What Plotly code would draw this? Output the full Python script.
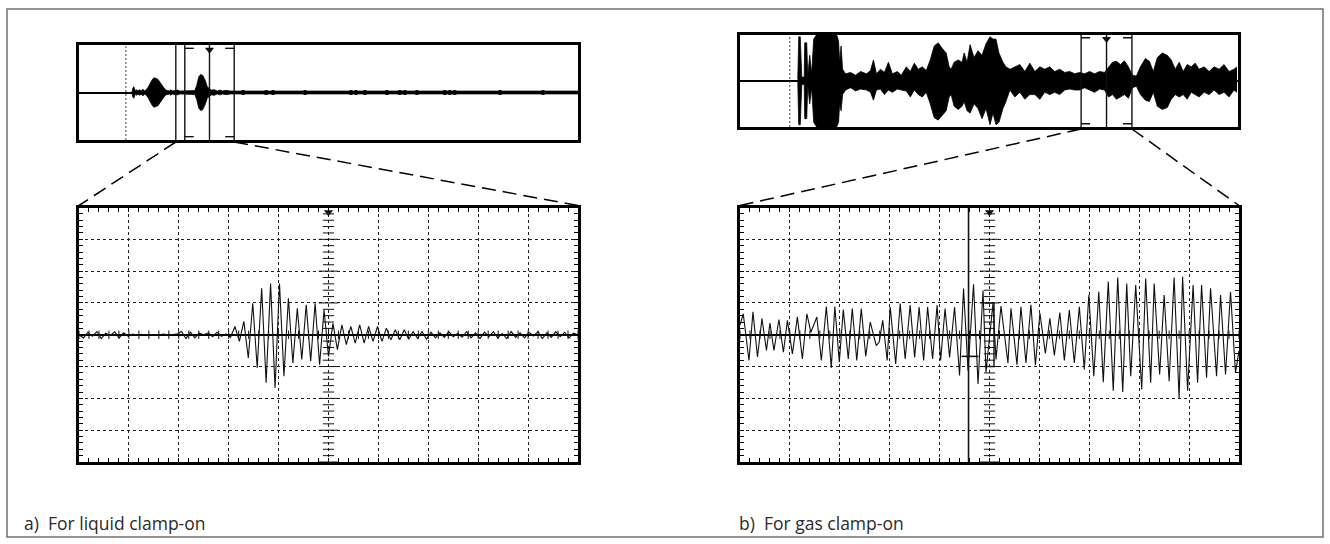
import numpy as np
import plotly.graph_objects as go

W, H = 1330, 544

# ---------------- data ----------------
# (a) liquid clamp-on: overview record, time axis 0-100 % of record,
#     symmetric envelope amplitude (box half height = 1)
LT_T = [10.6, 10.8, 11.0, 11.3, 11.6, 11.8, 12.2, 12.4, 12.8, 13.2, 13.8, 14.2, 14.6, 15.0,
        15.4, 15.8, 16.2, 16.6, 17.0, 17.4, 17.8, 18.2, 18.4, 18.6, 19.8, 20.2, 23.2, 23.6,
        24.0, 24.4, 24.8, 25.3, 25.7, 26.1, 26.5, 27.1, 27.7, 28.3, 28.7, 29.5, 30.3, 100.0]
LT_AMP = [0.0, 0.10, 0.12, 0.03, 0.06, 0.03, 0.06, 0.03, 0.07, 0.03, 0.10, 0.20, 0.26, 0.31,
          0.30, 0.28, 0.22, 0.15, 0.10, 0.05, 0.04, 0.03, 0.06, 0.03, 0.05, 0.03, 0.04, 0.15,
          0.33, 0.38, 0.36, 0.25, 0.12, 0.08, 0.05, 0.06, 0.03, 0.05, 0.03, 0.045, 0.03, 0.03]
LT_DOTS_T = [32.9, 37.5, 38.9, 45.3, 54.5, 55.5, 57.3, 61.7, 64.3, 65.3, 67.7,
             73.3, 74.3, 75.3, 84.4, 93.0]
LT_TRIGGER = 9.4
LT_CURSOR = 19.4
LT_WINDOW = (21.2, 31.1)

# (a) zoomed trace, 10 x 8 divisions
LB_DT = 10 / 112
LB_V = [0.0, -0.1, 0.08, -0.05, 0.1, -0.12, 0.05, -0.03, 0.09, -0.1, 0.06, -0.04,
        0.02, -0.02, 0.01, -0.01, 0.0, 0.01, -0.01, 0.02, -0.01, 0.0, 0.02,
        0.1, -0.12, 0.08, -0.1, 0.05, 0.0,
        0.06, -0.06, 0.08, -0.05, 0.03, -0.08,
        0.26, -0.21, 0.42, -0.73, 0.99, -1.04, 1.46, -1.51, 1.61, -1.67, 1.61, -1.30,
        1.15, -0.89, 0.83, -0.78, 0.94, -0.83, 0.99, -0.94, 0.78, -0.68, 0.36, -0.47,
        0.31, -0.31, 0.26, -0.26, 0.31, -0.26, 0.26, -0.21, 0.26, -0.21, 0.21, -0.16,
        0.16, -0.16, 0.16, -0.14, 0.10,
        -0.12, 0.1, -0.14, 0.08, -0.1, 0.06, -0.08, 0.1, -0.06, 0.04, -0.08, 0.1,
        -0.1, 0.06, -0.12, 0.08, -0.06, 0.1, -0.1, 0.04, -0.12, 0.1, -0.08, 0.06,
        -0.1, 0.08, -0.04, 0.1, -0.12, 0.06, -0.08, 0.1, -0.06, 0.08, -0.1, 0.05, 0.0]

# (b) gas clamp-on: overview record envelope (upper / lower)
RT_T = [11.6, 11.8, 12.1, 12.4, 12.9, 13.0, 13.4, 13.6, 14.0, 14.4, 14.8, 15.4, 19.4, 19.8,
        20.0, 20.3, 20.6, 21.2, 22.2, 23.2, 24.2, 25.4, 26.2, 26.8, 27.4, 28.2, 29.0, 29.8,
        30.6, 31.6, 32.4, 33.4, 34.2, 35.0, 35.8, 36.6, 37.4, 38.2, 39.0, 39.8, 40.6, 41.4,
        42.0, 42.4, 43.0, 43.8, 44.6, 45.0, 45.6, 46.2, 47.0, 47.8, 48.6, 49.4, 50.2, 50.8,
        51.4, 52.0, 52.8, 53.4, 54.2, 55.2, 56.2, 57.2, 58.2, 59.2, 60.2, 61.2, 62.2, 63.2,
        64.2, 65.2, 66.2, 67.2, 68.2, 69.2, 70.2, 71.2, 72.2, 73.2, 74.0, 74.8, 75.6, 76.4,
        77.2, 78.0, 78.8, 79.6, 80.4, 81.4, 82.2, 83.0, 83.8, 84.8, 85.8, 86.6, 87.4, 88.2,
        89.0, 89.8, 90.6, 91.4, 92.2, 93.2, 94.2, 95.2, 96.2, 97.2, 98.2, 99.2, 99.8]
RT_UP = [0.03, 0.95, 0.95, 0.08, 0.08, 0.82, 0.82, 0.10, 0.55, 0.15, 0.90, 1.0, 1.0, 0.85,
         0.40, 0.75, 0.25, 0.15, 0.18, 0.12, 0.20, 0.15, 0.22, 0.45, 0.15, 0.25, 0.18, 0.40,
         0.15, 0.20, 0.12, 0.30, 0.20, 0.38, 0.25, 0.30, 0.22, 0.45, 0.75, 0.82, 0.70, 0.60,
         0.30, 0.25, 0.40, 0.45, 0.40, 0.60, 0.40, 0.78, 0.50, 0.65, 0.55, 0.80, 0.95, 0.90,
         0.90, 0.60, 0.40, 0.30, 0.25, 0.30, 0.35, 0.20, 0.38, 0.20, 0.30, 0.25, 0.30, 0.20,
         0.25, 0.18, 0.20, 0.15, 0.18, 0.15, 0.20, 0.15, 0.20, 0.18, 0.30, 0.40, 0.42, 0.35,
         0.43, 0.30, 0.12, 0.10, 0.30, 0.48, 0.42, 0.20, 0.50, 0.60, 0.55, 0.45, 0.25, 0.40,
         0.20, 0.35, 0.30, 0.38, 0.25, 0.30, 0.20, 0.30, 0.25, 0.35, 0.20, 0.25, 0.30]
RT_LO = [-0.03, -0.95, -0.95, -0.08, -0.08, -0.82, -0.82, -0.10, -0.50, -0.15, -0.90, -1.0,
         -1.0, -0.90, -0.50, -0.65, -0.30, -0.20, -0.15, -0.22, -0.18, -0.20, -0.25, -0.42,
         -0.20, -0.18, -0.30, -0.20, -0.25, -0.18, -0.20, -0.22, -0.35, -0.20, -0.30, -0.35,
         -0.25, -0.50, -0.80, -0.85, -0.75, -0.65, -0.35, -0.30, -0.55, -0.62, -0.55, -0.45,
         -0.65, -0.70, -0.50, -0.60, -0.82, -0.60, -0.95, -0.70, -0.95, -0.90, -0.60, -0.45,
         -0.20, -0.35, -0.25, -0.40, -0.30, -0.30, -0.40, -0.25, -0.30, -0.25, -0.30, -0.20,
         -0.18, -0.20, -0.20, -0.15, -0.20, -0.25, -0.18, -0.20, -0.35, -0.30, -0.40, -0.35,
         -0.30, -0.38, -0.15, -0.12, -0.30, -0.42, -0.45, -0.25, -0.55, -0.62, -0.58, -0.40,
         -0.30, -0.35, -0.30, -0.40, -0.25, -0.30, -0.35, -0.25, -0.30, -0.20, -0.30, -0.25,
         -0.35, -0.20, -0.25]
RT_TRIGGER = 10.0
RT_WINDOW = (68.5, 78.7)

# (b) zoomed trace
RB_T = [0.0, 0.065, 0.18, 0.26, 0.35, 0.44, 0.53, 0.60, 0.68, 0.78,
        0.87, 0.95, 1.05, 1.15, 1.25, 1.34, 1.42, 1.54, 1.63, 1.73,
        1.83, 1.90, 1.99, 2.07, 2.17, 2.25, 2.34, 2.43, 2.52, 2.61,
        2.73, 2.79, 2.86, 2.95, 3.01, 3.12, 3.21, 3.31, 3.41, 3.50,
        3.59, 3.68, 3.76, 3.86, 3.95, 4.02, 4.11, 4.20, 4.30, 4.40,
        4.48, 4.57, 4.68, 4.77, 4.87, 4.93, 5.07, 5.13, 5.23, 5.37,
        5.43, 5.55, 5.63, 5.73, 5.83, 5.92, 6.01, 6.12, 6.21, 6.30,
        6.41, 6.50, 6.60, 6.70, 6.80, 6.90, 6.99, 7.09, 7.19, 7.28,
        7.38, 7.48, 7.57, 7.67, 7.75, 7.83, 7.93, 8.05, 8.13, 8.23,
        8.30, 8.41, 8.50, 8.60, 8.70, 8.80, 8.87, 8.97, 9.08, 9.17,
        9.25, 9.35, 9.43, 9.55, 9.63, 9.73, 9.83, 9.93, 10.0]
RB_V = [0.3, 0.66, -0.81, 0.72, -0.70, 0.51, -0.49, 0.37, -0.49, 0.48,
        -0.55, 0.45, -0.60, 0.56, -0.76, 0.66, 0.08, 0.56, -0.81, 0.89,
        -1.04, 0.89, -0.86, 0.79, -0.76, 0.82, -0.81, 0.82, -0.68, 0.40,
        -0.34, -0.23, 0.45, -0.81, 0.87, -0.92, 0.98, -0.76, 0.93, -0.71,
        0.87, -0.81, 0.87, -0.76, 0.93, -0.81, 0.82, -0.71, 0.87, -1.28,
        1.45, -1.13, 1.59, -1.55, 1.39, -1.18, 0.99, -0.78, 0.90, -0.89,
        0.83, -0.94, 0.88, -0.89, 0.94, -0.96, 0.68, -0.59, 0.52, -0.65,
        0.70, -0.81, 0.78, -0.89, 0.88, -1.09, 1.25, -1.30, 1.35, -1.49,
        1.67, -1.76, 1.80, -1.80, 1.61, -1.30, 1.56, -1.72, 1.77, -1.51,
        1.61, -1.25, 1.25, -1.46, 1.80, -2.0, 1.82, -1.76, 1.56, -1.51,
        1.56, -1.35, 1.46, -1.30, 1.25, -1.25, 1.35, -1.20, -0.5]
RB_CURSOR = 4.58
RB_MARK_Y = -0.68
RB_MARK_SPAN = (4.44, 4.78)
RB_LEVEL = (4.90, 5.09, 1.0, -1.0)

CAPTIONS = ["a)\u00a0 For liquid clamp-on", "b)\u00a0 For gas clamp-on"]

# ---------------- layout geometry (pixels) ----------------
BOX = {
    "lt": (79, 578, 45, 140),
    "lb": (79, 578, 207.5, 462),
    "rt": (740, 1238, 34.5, 127),
    "rb": (740, 1239, 207.5, 462),
}
AX = {"lb": ("x", "y"), "lt": ("x2", "y2"), "rb": ("x3", "y3"), "rt": ("x4", "y4")}
RANGES = {"lb": ([0, 10], [-4, 4]), "rb": ([0, 10], [-4, 4]),
          "lt": ([0, 100], [-1, 1]), "rt": ([0, 100], [-1, 1])}


def domains(key):
    x0, x1, y0, y1 = BOX[key]
    return [x0 / W, x1 / W], [1 - y1 / H, 1 - y0 / H]


def to_paper(key, xv, yv):
    (xr, yr) = RANGES[key]
    x0, x1, y0, y1 = BOX[key]
    px = x0 + (xv - xr[0]) / (xr[1] - xr[0]) * (x1 - x0)
    py = y1 - (yv - yr[0]) / (yr[1] - yr[0]) * (y1 - y0)
    return px, py


fig = go.Figure()
INK = "#111111"

# ---- bottom (zoomed) traces ----
lb_x = [i * LB_DT for i in range(len(LB_V))]
fig.add_trace(go.Scatter(x=lb_x, y=LB_V, mode="lines", line=dict(color=INK, width=1.1),
                         xaxis="x", yaxis="y"))
fig.add_trace(go.Scatter(x=RB_T, y=RB_V, mode="lines", line=dict(color=INK, width=1.1),
                         xaxis="x3", yaxis="y3"))

# graticule centre-axis ticks for both zoomed boxes
ygrid = np.round(np.arange(-4, 4.0001, 0.2), 3)
ymin = [v for v in ygrid if abs(v - round(v)) > 1e-6]
ymaj = [v for v in ygrid if abs(v - round(v)) <= 1e-6]
xgrid = np.round(np.arange(0, 10.0001, 0.2), 3)
for xa, ya in (("x", "y"), ("x3", "y3")):
    fig.add_trace(go.Scatter(x=[5] * len(ymin), y=ymin, mode="markers", xaxis=xa, yaxis=ya,
                             marker=dict(symbol="line-ew", size=8,
                                         line=dict(color=INK, width=1))))
    fig.add_trace(go.Scatter(x=[5] * len(ymaj), y=ymaj, mode="markers", xaxis=xa, yaxis=ya,
                             marker=dict(symbol="line-ew", size=14,
                                         line=dict(color=INK, width=1))))
    fig.add_trace(go.Scatter(x=xgrid, y=[0] * len(xgrid), mode="markers", xaxis=xa, yaxis=ya,
                             marker=dict(symbol="line-ns", size=6,
                                         line=dict(color=INK, width=1))))
    fig.add_trace(go.Scatter(x=[5], y=[3.85], mode="markers", xaxis=xa, yaxis=ya,
                             cliponaxis=False,
                             marker=dict(symbol="triangle-down", size=8, color=INK)))

# cursor / markers in gas zoom
fig.add_trace(go.Scatter(x=[RB_CURSOR, RB_CURSOR], y=[-4, 4], mode="lines",
                         line=dict(color=INK, width=1.6), xaxis="x3", yaxis="y3"))
fig.add_trace(go.Scatter(x=list(RB_MARK_SPAN), y=[RB_MARK_Y, RB_MARK_Y], mode="lines",
                         line=dict(color=INK, width=1.6), xaxis="x3", yaxis="y3"))
lx0, lx1, ly0, ly1 = RB_LEVEL
fig.add_trace(go.Scatter(x=[lx0, lx1, lx1, lx0], y=[ly0, ly0, ly1, ly1], mode="lines",
                         line=dict(color=INK, width=1.4), xaxis="x3", yaxis="y3"))

# ---- top (overview) envelopes ----
fig.add_trace(go.Scatter(x=LT_T, y=LT_AMP, mode="lines", line=dict(color="black", width=0.8),
                         xaxis="x2", yaxis="y2"))
fig.add_trace(go.Scatter(x=LT_T, y=[-a for a in LT_AMP], mode="lines", fill="tonexty",
                         fillcolor="black", line=dict(color="black", width=0.8),
                         xaxis="x2", yaxis="y2"))
fig.add_trace(go.Scatter(x=LT_DOTS_T, y=[0] * len(LT_DOTS_T), mode="markers",
                         marker=dict(color="black", size=5), xaxis="x2", yaxis="y2"))

fig.add_trace(go.Scatter(x=RT_T, y=RT_UP, mode="lines", line=dict(color="black", width=0.8),
                         xaxis="x4", yaxis="y4"))
fig.add_trace(go.Scatter(x=RT_T, y=RT_LO, mode="lines", fill="tonexty", fillcolor="black",
                         line=dict(color="black", width=0.8), xaxis="x4", yaxis="y4"))


def window_traces(xa, ya, trig, win, extra=None):
    a, b = win
    c = (a + b) / 2
    L = 1.8
    yt, yb = 0.93, -0.93
    xs = [a, a, None, b, b, None, c, c, None, a, a + L, None, b - L, b, None,
          a, a + L, None, b - L, b]
    ys = [-1, 1, None, -1, 1, None, -1, 1, None, yt, yt, None, yt, yt, None,
          yb, yb, None, yb, yb]
    if extra is not None:
        xs += [None, extra, extra]
        ys += [None, -1, 1]
    fig.add_trace(go.Scatter(x=xs, y=ys, mode="lines", line=dict(color=INK, width=1.4),
                             xaxis=xa, yaxis=ya))
    fig.add_trace(go.Scatter(x=[trig, trig], y=[-1, 1], mode="lines",
                             line=dict(color="#444", width=1, dash="2px,2px"),
                             xaxis=xa, yaxis=ya))
    fig.add_trace(go.Scatter(x=[c], y=[0.9], mode="markers", cliponaxis=False,
                             marker=dict(symbol="triangle-down", size=8, color=INK),
                             xaxis=xa, yaxis=ya))


window_traces("x2", "y2", LT_TRIGGER, LT_WINDOW, extra=LT_CURSOR)
window_traces("x4", "y4", RT_TRIGGER, RT_WINDOW)

# ---- axes ----
layout_axes = {}
for key, (xa, ya) in AX.items():
    xd, yd = domains(key)
    xr, yr = RANGES[key]
    xname = "xaxis" if xa == "x" else "xaxis" + xa[1:]
    yname = "yaxis" if ya == "y" else "yaxis" + ya[1:]
    base = dict(showticklabels=False, showline=True, linecolor="black", linewidth=3,
                fixedrange=True)
    if key in ("lb", "rb"):
        grid = dict(showgrid=True, gridcolor="#222", gridwidth=1, griddash="3px,3px",
                    ticks="inside", ticklen=4, tickwidth=1, tickcolor="black",
                    mirror="ticks", tick0=0, dtick=1,
                    minor=dict(dtick=0.2, tick0=0, ticks="inside", ticklen=4,
                               tickwidth=1, tickcolor="black", showgrid=False))
        layout_axes[xname] = dict(domain=xd, range=xr, anchor=ya, zeroline=False, **base, **grid)
        layout_axes[yname] = dict(domain=yd, range=yr, anchor=xa, zeroline=True,
                                  zerolinecolor="black", zerolinewidth=2, **base, **grid)
    else:
        layout_axes[xname] = dict(domain=xd, range=xr, anchor=ya, zeroline=False,
                                  showgrid=False, ticks="", mirror=True, **base)
        layout_axes[yname] = dict(domain=yd, range=yr, anchor=xa, zeroline=True,
                                  zerolinecolor="black", zerolinewidth=2,
                                  showgrid=False, ticks="", mirror=True, **base)

# ---- connectors (dashed) ----
shapes = []


def connector(top_key, tx, bot_key, bx):
    px0, py0 = to_paper(top_key, tx, RANGES[top_key][1][0])
    px1, py1 = to_paper(bot_key, bx, RANGES[bot_key][1][1])
    py0 += 2
    py1 -= 2
    shapes.append(dict(type="line", xref="paper", yref="paper",
                       x0=px0 / W, y0=1 - py0 / H, x1=px1 / W, y1=1 - py1 / H,
                       line=dict(color="black", width=1.5, dash="14px,7px")))


connector("lt", LT_CURSOR, "lb", 0)
connector("lt", LT_WINDOW[1], "lb", 10)
connector("rt", RT_WINDOW[0], "rb", 0)
connector("rt", RT_WINDOW[1], "rb", 10)

# outer frame
shapes.append(dict(type="rect", xref="paper", yref="paper",
                   x0=7 / W, x1=1323 / W, y0=1 - 537 / H, y1=1 - 9 / H,
                   line=dict(color="#707070", width=1.5), layer="below"))

annotations = [
    dict(text=CAPTIONS[0], x=22 / W, y=1 - 523 / H, xref="paper", yref="paper",
         xanchor="left", yanchor="middle", showarrow=False,
         font=dict(family="Open Sans", size=17.5, color="#2b2b2b")),
    dict(text=CAPTIONS[1], x=737 / W, y=1 - 523 / H, xref="paper", yref="paper",
         xanchor="left", yanchor="middle", showarrow=False,
         font=dict(family="Open Sans", size=17.5, color="#2b2b2b")),
]

fig.update_layout(width=W, height=H, margin=dict(l=0, r=0, t=0, b=0),
                  paper_bgcolor="white", plot_bgcolor="white", showlegend=False,
                  shapes=shapes, annotations=annotations, **layout_axes)

fig.write_html("out.html", config={"staticPlot": True})
